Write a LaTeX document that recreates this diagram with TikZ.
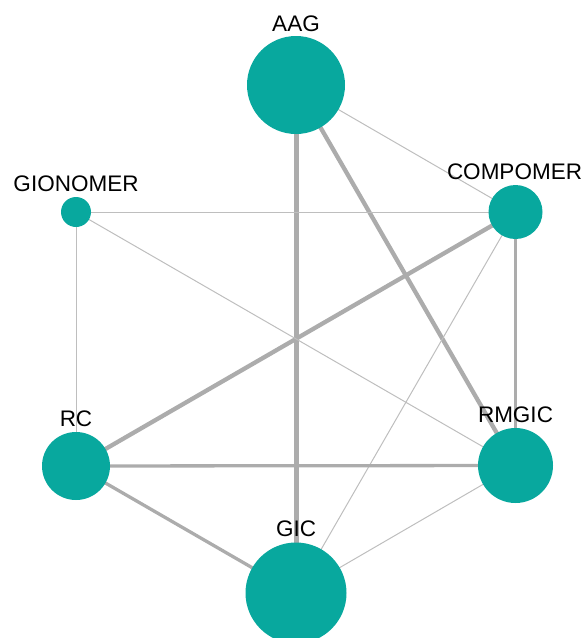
\documentclass[tikz,border=0pt]{standalone}
\usepackage{fontspec}
\setmainfont{Liberation Sans}
\definecolor{teal}{RGB}{8,168,158}
\definecolor{edgegray}{RGB}{172,172,172}
\definecolor{thingray}{RGB}{190,190,190}
\begin{document}
\begin{tikzpicture}[x=1pt,y=-1pt,
  vtx/.style={circle,fill=teal,draw=none,inner sep=0pt,minimum size=#1},
  lbl/.style={inner sep=0pt,font=\fontsize{22.5}{24}\selectfont,text=black},
  thin link/.style={draw=thingray,line width=1pt},
  mid link/.style={draw=edgegray,line width=3.3pt},
  wide link/.style={draw=edgegray,line width=4.3pt},
  widest link/.style={draw=edgegray,line width=5pt}]
\useasboundingbox (0,0) rectangle (587,638);
% vertices
\path
  (296,85)    coordinate (aag)
  (515.5,212) coordinate (comp)
  (76,212)    coordinate (gion)
  (76,466)    coordinate (rc)
  (515.5,465.5) coordinate (rmgic)
  (296,593)   coordinate (gic);
% links
\draw[widest link] (aag) -- (gic);
\draw[wide link] (aag) -- (rmgic);
\draw[thin link] (aag) -- (comp);
\draw[thin link] (comp) -- (gion);
\draw[wide link] (comp) -- (rc);
\draw[mid link] (comp) -- (rmgic);
\draw[thin link] (comp) -- (gic);
\draw[thin link] (gion) -- (rc);
\draw[thin link] (gion) -- (rmgic);
\draw[mid link] (rc) -- (rmgic);
\draw[mid link] (rc) -- (gic);
\draw[thin link] (rmgic) -- (gic);
% discs
\node[vtx=98pt] (n-aag) at (aag) {};
\node[vtx=54pt] (n-comp) at (comp) {};
\node[vtx=30pt] (n-gion) at (gion) {};
\node[vtx=68pt] (n-rc) at (rc) {};
\node[vtx=75pt] (n-rmgic) at (rmgic) {};
\node[vtx=101pt] (n-gic) at (gic) {};
% labels
\node[lbl] (l-aag) at (296,23.5) {AAG};
\node[lbl] (l-comp) at (514.5,172) {COMPOMER};
\node[lbl] (l-gion) at (76,184) {GIONOMER};
\node[lbl] (l-rc) at (76,418.5) {RC};
\node[lbl] (l-rmgic) at (515.5,415) {RMGIC};
\node[lbl] (l-gic) at (296,529) {GIC};
\end{tikzpicture}
\end{document}
